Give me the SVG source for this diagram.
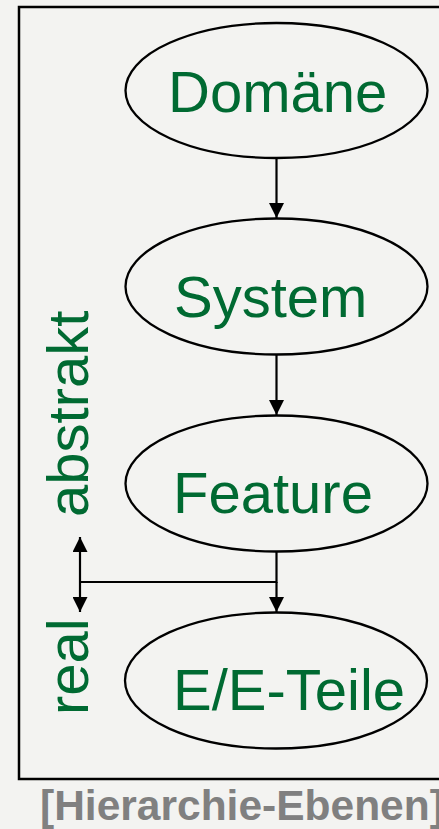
<svg xmlns="http://www.w3.org/2000/svg" width="439" height="829" viewBox="0 0 439 829">
<defs>
<style>
.bg{fill:#f3f3f1}
.frame{fill:none;stroke:#000;stroke-width:2.5}
.node ellipse{fill:none;stroke:#000;stroke-width:2.3}
.lbl{font-family:"Liberation Sans",Arial,sans-serif;font-size:58px;fill:#006a32}
.edge{fill:none;stroke:#000;stroke-width:2.2}
.cap{font-family:"Liberation Sans",Arial,sans-serif;font-size:42.5px;font-weight:bold;fill:#808080}
</style>
<marker id="ah" viewBox="0 0 10 10" refX="10" refY="5" markerWidth="15" markerHeight="15" markerUnits="userSpaceOnUse" orient="auto-start-reverse">
<path d="M0,0 L10,5 L0,10 Z" fill="#000"/>
</marker>
</defs>
<rect class="bg" x="0" y="0" width="439" height="829"/>
<rect class="frame" x="19" y="7" width="440" height="772"/>
<g id="domaene" class="node">
<ellipse cx="276.5" cy="90.5" rx="151" ry="67.5"/>
<text class="lbl" x="168" y="112">Domäne</text>
</g>
<g id="system" class="node">
<ellipse cx="276.5" cy="286.5" rx="151" ry="68"/>
<text class="lbl" x="174" y="317">System</text>
</g>
<g id="feature" class="node">
<ellipse cx="276.5" cy="483.5" rx="151" ry="68"/>
<text class="lbl" x="173" y="513">Feature</text>
</g>
<g id="ee-teile" class="node">
<ellipse cx="276" cy="680.5" rx="151" ry="68"/>
<text class="lbl" x="173" y="710">E/E-Teile</text>
</g>
<g id="connectors">
<line class="edge" x1="276.5" y1="158" x2="276.5" y2="218" marker-end="url(#ah)"/>
<line class="edge" x1="276.5" y1="355" x2="276.5" y2="415" marker-end="url(#ah)"/>
<polyline class="edge" points="276.5,552 276.5,582 80,582"/>
<line class="edge" x1="276.5" y1="582" x2="276.5" y2="612" marker-end="url(#ah)"/>
<line class="edge" x1="80" y1="537" x2="80" y2="612" marker-start="url(#ah)" marker-end="url(#ah)"/>
</g>
<g id="axis-labels">
<text class="lbl" transform="translate(88,517) rotate(-90)">abstrakt</text>
<text class="lbl" transform="translate(88,715) rotate(-90)">real</text>
</g>
<text class="cap" x="40" y="820">[Hierarchie-Ebenen]</text>
</svg>
